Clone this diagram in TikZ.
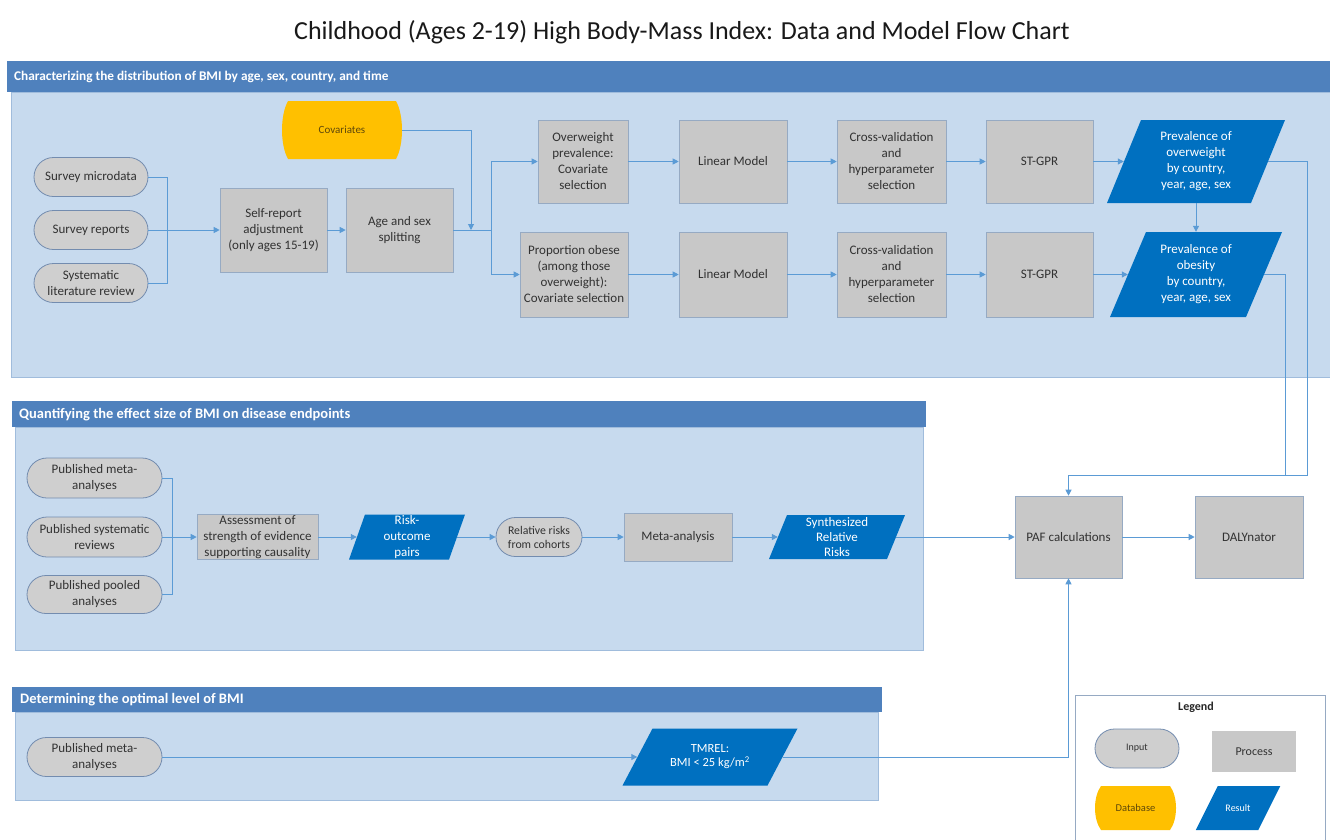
\documentclass[tikz,border=0pt]{standalone}
\usepackage{fontspec}
\setmainfont{Carlito}
\usetikzlibrary{arrows.meta}

\definecolor{hdrblue}{RGB}{79,129,189}
\definecolor{bodyblue}{RGB}{199,218,238}
\definecolor{bodyedge}{RGB}{160,188,220}
\definecolor{procgrey}{RGB}{200,200,200}
\definecolor{procedge}{RGB}{150,170,195}
\definecolor{inputgrey}{RGB}{207,207,207}
\definecolor{inputedge}{RGB}{115,140,175}
\definecolor{resblue}{RGB}{0,112,192}
\definecolor{dbyellow}{RGB}{255,192,0}
\definecolor{dbtext}{RGB}{95,72,10}
\definecolor{linkblue}{RGB}{91,155,213}
\definecolor{txtdark}{RGB}{50,50,50}
\definecolor{legendedge}{RGB}{150,170,195}

% parallelogram "result" shape: centre x, centre y, mid-width, height, half slant
\newcommand{\resultfill}[5]{%
  \fill[resblue] (#1-#3/2-#5,#2+#4/2) -- (#1+#3/2-#5,#2+#4/2)
    -- (#1+#3/2+#5,#2-#4/2) -- (#1-#3/2+#5,#2-#4/2) -- cycle;}
% database shape with gently bulging sides: centre x, centre y, width, height
\newcommand{\dbfill}[4]{%
  \fill[dbyellow] (#1-#3/2+6,#2-#4/2) -- (#1+#3/2-6,#2-#4/2)
    .. controls (#1+#3/2+2,#2-#4/4) and (#1+#3/2+2,#2+#4/4) .. (#1+#3/2-6,#2+#4/2)
    -- (#1-#3/2+6,#2+#4/2)
    .. controls (#1-#3/2-2,#2+#4/4) and (#1-#3/2-2,#2-#4/4) .. (#1-#3/2+6,#2-#4/2) -- cycle;}

\begin{document}
\begin{tikzpicture}[x=1pt,y=-1pt,
  link/.style={draw=linkblue,line width=1pt,-{Triangle[length=6pt,width=6pt]}},
  plainlink/.style={draw=linkblue,line width=1pt},
  proc/.style={draw=procedge,line width=0.6pt,fill=procgrey,text=txtdark,align=center,
    inner sep=0pt,font=\fontsize{13}{16}\selectfont},
  inp/.style={draw=inputedge,line width=0.8pt,fill=inputgrey,text=txtdark,align=center,
    inner sep=0pt,font=\fontsize{13}{16}\selectfont},
  restext/.style={text=white,align=center,inner sep=0pt,font=\fontsize{13}{16}\selectfont},
  dbtxt/.style={text=dbtext,align=center,inner sep=0pt,font=\fontsize{11}{13}\selectfont},
  hdr/.style={fill=hdrblue},
  panel/.style={fill=bodyblue,draw=bodyedge,line width=0.8pt},
  hdrtext/.style={text=white,anchor=west,inner sep=0pt}
]
\useasboundingbox (0,0) rectangle (1330,839);
\fill[white] (0,0) rectangle (1330,839);

\node[font=\fontsize{26}{30}\selectfont,text=black!90] (title) at (682,32)
  {Childhood (Ages 2-19) High Body-Mass Index: Data and Model Flow Chart};

% ---------- panels ----------
\path[panel] (11,92) rectangle (1334,377);
\path[hdr] (7,61) rectangle (1334,92);
\node[hdrtext,font=\bfseries\fontsize{13.3}{15}\selectfont] (h1) at (14,77)
  {Characterizing the distribution of BMI by age, sex, country, and time};

\path[panel] (15,427) rectangle (923,650);
\path[hdr] (12,401) rectangle (926,427);
\node[hdrtext,font=\bfseries\fontsize{14.5}{16}\selectfont] (h2) at (19,415)
  {Quantifying the effect size of BMI on disease endpoints};

\path[panel] (15,712) rectangle (878,800);
\path[hdr] (12,687) rectangle (882,712);
\node[hdrtext,font=\bfseries\fontsize{14.5}{16}\selectfont] (h3) at (20,700)
  {Determining the optimal level of BMI};

% legend frame
\fill[white] (1075,695) rectangle (1325,845);
\draw[legendedge,line width=0.8pt] (1075,845) -- (1075,695) -- (1325,695) -- (1325,845);

% ---------- section 1: prevalence models ----------
\node[inp,minimum width=114,minimum height=39,rounded corners=19.5pt] (smd) at (91,177) {Survey microdata};
\node[inp,minimum width=114,minimum height=39,rounded corners=19.5pt] (srp) at (91,230) {Survey reports};
\node[inp,minimum width=114,minimum height=39,rounded corners=19.5pt] (slr) at (91,283) {Systematic\\literature review};
\node[proc,minimum width=107,minimum height=84] (sra) at (273.5,230) {Self-report\\adjustment\\(only ages 15-19)};
\node[proc,minimum width=107,minimum height=84] (ass) at (399.5,230) {Age and sex\\splitting};
\dbfill{342}{130}{120}{58}
\node[dbtxt,minimum width=120,minimum height=58] (cov) at (342,130) {Covariates};

\node[proc,minimum width=90,minimum height=83] (owc) at (583,161.5) {Overweight\\prevalence:\\Covariate\\selection};
\node[proc,minimum width=108,minimum height=85] (poc) at (574,274.5) {Proportion obese\\(among those\\overweight):\\Covariate selection};
\node[proc,minimum width=108,minimum height=83] (lm1) at (733,161.5) {Linear Model};
\node[proc,minimum width=108,minimum height=85] (lm2) at (733,274.5) {Linear Model};
\node[proc,minimum width=109,minimum height=83] (cv1) at (891.5,161.5) {Cross-validation\\and\\hyperparameter\\selection};
\node[proc,minimum width=109,minimum height=85] (cv2) at (891.5,274.5) {Cross-validation\\and\\hyperparameter\\selection};
\node[proc,minimum width=107,minimum height=83] (st1) at (1039.5,161.5) {ST-GPR};
\node[proc,minimum width=107,minimum height=85] (st2) at (1039.5,274.5) {ST-GPR};
\resultfill{1196}{161.5}{144}{83}{17}
\node[restext,minimum width=144,minimum height=83] (pow) at (1196,161.5) {Prevalence of\\overweight\\by country,\\year, age, sex};
\resultfill{1196}{274.5}{136}{85}{18}
\node[restext,minimum width=136,minimum height=85] (pob) at (1196,274.5) {Prevalence of\\obesity\\by country,\\year, age, sex};

\coordinate (m1) at (167,230);
\coordinate (cj) at (471,230);
\coordinate (br) at (491,230);
\coordinate (rt) at (1307,475);
\coordinate (jn) at (1285,475);

\draw[plainlink] (smd.east) -| (m1);
\draw[plainlink] (slr.east) -| (m1);
\draw[link] (srp.east) -- (sra.west);
\draw[link] (sra) -- (ass);
\draw[plainlink] (ass.east) -- (br);
\draw[link] (cov.east) -| (cj);
\draw[link] (br) |- (owc.west);
\draw[link] (br) |- (poc.west);
\draw[link] (owc) -- (lm1);
\draw[link] (lm1) -- (cv1);
\draw[link] (cv1) -- (st1);
\draw[link] (st1.east) -- (pow.west);
\draw[link] (poc) -- (lm2);
\draw[link] (lm2) -- (cv2);
\draw[link] (cv2) -- (st2);
\draw[link] (st2.east) -- (pob.west);
\draw[link] (pow.south) -- (pob.north);

% ---------- section 2: relative risks ----------
\node[inp,minimum width=135,minimum height=40,rounded corners=20pt] (pma) at (94.5,478) {Published meta-\\analyses};
\node[inp,minimum width=135,minimum height=40,rounded corners=20pt] (psr) at (94.5,537) {Published systematic\\reviews};
\node[inp,minimum width=135,minimum height=38,rounded corners=19pt] (ppa) at (94.5,594.5) {Published pooled\\analyses};
\node[proc,minimum width=121,minimum height=45] (aes) at (257.5,537) {Assessment of\\strength of evidence\\supporting causality};
\resultfill{407}{537}{100}{45}{8}
\node[restext,minimum width=100,minimum height=45] (rop) at (407,537) {Risk-\\outcome\\pairs};
\node[inp,minimum width=86,minimum height=39,rounded corners=19.5pt,font=\fontsize{11.8}{14}\selectfont] (rrc) at (539,537) {Relative risks\\from cohorts};
\node[proc,minimum width=108,minimum height=48] (mta) at (678,537) {Meta-analysis};
\resultfill{837}{537}{118}{44}{9}
\node[restext,minimum width=118,minimum height=44,font=\fontsize{13}{15}\selectfont] (srr) at (837,537) {Synthesized\\Relative\\Risks};
\node[proc,minimum width=107,minimum height=82] (paf) at (1068.5,537) {PAF calculations};
\node[proc,minimum width=108,minimum height=82] (daly) at (1249,537) {DALYnator};

\coordinate (m2) at (172,537);
\draw[plainlink] (pma.east) -| (m2);
\draw[plainlink] (ppa.east) -| (m2);
\draw[link] (psr.east) -- (aes.west);
\draw[link] (aes.east) -- (rop.west);
\draw[link] (rop.east) -- (rrc.west);
\draw[link] (rrc) -- (mta);
\draw[link] (mta.east) -- (srr.west);
\draw[link] (srr.east) -- (paf.west);
\draw[link] (paf) -- (daly);

\draw[link] (pow.east) -| (rt) -| (paf.north);
\draw[plainlink] (pob.east) -| (jn);

% ---------- section 3: optimal level ----------
\node[inp,minimum width=135,minimum height=39,rounded corners=19.5pt] (pm3) at (94.5,757) {Published meta-\\analyses};
\resultfill{710}{757}{145}{57}{15}
\node[restext,minimum width=145,minimum height=57,font=\fontsize{12.5}{14}\selectfont] (tmr) at (710,757) {TMREL:\\BMI < 25 kg/m\textsuperscript{2}};
\draw[link] (pm3.east) -- (tmr.west);
\draw[link] (tmr.east) -| (paf.south);

% ---------- legend ----------
\node[font=\bfseries\fontsize{12}{14}\selectfont,text=black!85] (lgt) at (1196,707) {Legend};
\node[inp,minimum width=84,minimum height=39,rounded corners=19.5pt,font=\fontsize{10}{12}\selectfont] (lin) at (1137,748.5) {Input};
\node[proc,draw=none,minimum width=84,minimum height=41,font=\fontsize{12}{14}\selectfont] (lpr) at (1254,751.5) {Process};
\dbfill{1135.5}{808}{81}{44}
\node[dbtxt,minimum width=81,minimum height=44,font=\fontsize{10.5}{12}\selectfont] (ldb) at (1135.5,808) {Database};
\resultfill{1238}{808}{62.5}{44}{11}
\node[restext,minimum width=62,minimum height=44,font=\fontsize{10}{12}\selectfont] (lrs) at (1238,808) {Result};
\end{tikzpicture}
\end{document}
